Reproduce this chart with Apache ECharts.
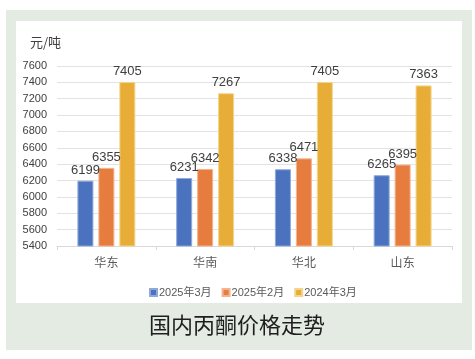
<!DOCTYPE html>
<html><head><meta charset="utf-8">
<script src="https://cdn.jsdelivr.net/npm/echarts@6/dist/echarts.min.js"></script>
<style>html,body{margin:0;padding:0;background:#fff}#c{width:475px;height:359px}</style>
</head><body><div id="c"></div>
<script>
const categories = ['华东', '华南', '华北', '山东'];
const seriesNames = ['2025年3月', '2025年2月', '2024年3月'];
const mar2025 = [6199, 6231, 6338, 6265];
const feb2025 = [6355, 6342, 6471, 6395];
const mar2024 = [7405, 7267, 7405, 7363];
const yMin = 5400, yMax = 7600, yStep = 200;
const unitLabel = '元/吨';
const chartTitle = '国内丙酮价格走势';

const numFont = '"Liberation Sans Narrow","Liberation Sans","Noto Sans CJK SC",sans-serif';
const colors = ['#4a72bf', '#e77c3f', '#e8ad36'];
const borders = ['#8fa9db', '#f2b48f', '#f3d58e'];
const data = [mar2025, feb2025, mar2024];

const chart = echarts.init(document.getElementById('c'), null, {renderer: 'canvas'});
chart.setOption({
  backgroundColor: '#ffffff',
  animation: false,
  graphic: [
    {type: 'rect', z: -10, shape: {x: 6, y: 10, width: 466, height: 340}, style: {fill: '#e3ebe3'}},
    {type: 'rect', z: -9, shape: {x: 16, y: 21, width: 446, height: 282}, style: {fill: '#ffffff'}},
    {type: 'text', left: 30, top: 36, style: {text: unitLabel, fill: '#404040', font: '13px "Noto Sans CJK SC",sans-serif'}},
    {type: 'text', x: 237, y: 325, style: {text: chartTitle, fill: '#1e1e1e', font: '22px "Noto Sans CJK SC",sans-serif', align: 'center', verticalAlign: 'middle'}}
  ],
  grid: {left: 57, right: 23, top: 66, bottom: 113, containLabel: false},
  legend: {
    data: seriesNames, top: 282, left: 144, itemWidth: 7, itemHeight: 7, itemGap: 10,
    icon: 'rect',
    textStyle: {color: '#595959', fontSize: 11, fontFamily: numFont, padding: [0, 0, 0, -3]}
  },
  xAxis: {
    type: 'category', data: categories,
    axisLine: {lineStyle: {color: '#d9d9d9'}},
    axisTick: {show: true, length: 4, lineStyle: {color: '#d9d9d9'}},
    axisLabel: {color: '#595959', fontSize: 12, fontFamily: '"Noto Sans CJK SC",sans-serif', margin: 10}
  },
  yAxis: {
    type: 'value', min: yMin, max: yMax, interval: yStep,
    axisLine: {show: false}, axisTick: {show: false},
    splitLine: {lineStyle: {color: '#e3e3e3'}},
    axisLabel: {color: '#404040', fontSize: 11, fontFamily: numFont, margin: 10, formatter: v => String(v)}
  },
  series: seriesNames.map((n, i) => ({
    name: n, type: 'bar', data: data[i],
    barWidth: 16, barGap: '31%',
    itemStyle: {color: colors[i], borderColor: borders[i], borderWidth: 1},
    label: {show: true, position: 'top', distance: 4, color: '#404040', fontSize: 13, fontFamily: numFont}
  }))
});
</script></body></html>
